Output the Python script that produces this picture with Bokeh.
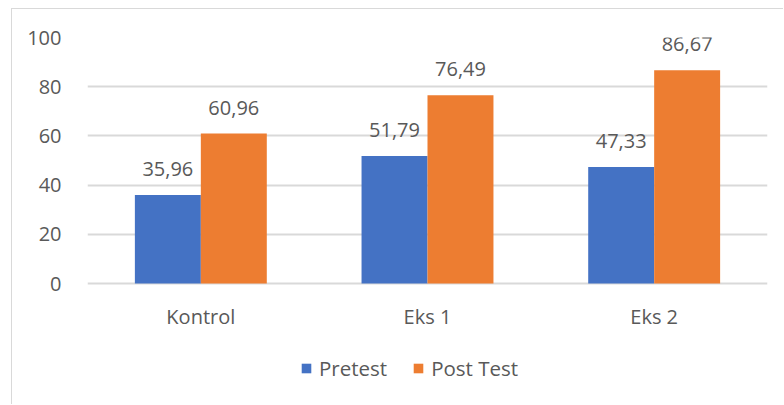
from bokeh.plotting import figure
from bokeh.models import ColumnDataSource, FactorRange, Range1d, LabelSet, Legend, LegendItem, FixedTicker
from bokeh.transform import dodge
from bokeh.core.properties import value
from bokeh.embed import file_html
from bokeh.resources import INLINE

categories = ["Kontrol", "Eks 1", "Eks 2"]
pretest = [35.96, 51.79, 47.33]
posttest = [60.96, 76.49, 86.67]
y_ticks = [0, 20, 40, 60, 80, 100]
series_names = ["Pretest", "Post Test"]

BLUE = "#4472C4"
ORANGE = "#ED7D31"
TXT = "#595959"
GRID = "#d9d9d9"
FONT = "Open Sans"

def fmt(v):
    return f"{v:.2f}".replace(".", ",")

src = ColumnDataSource(dict(
    cat=categories,
    zero=[0] * len(categories),
    pre=pretest,
    post=posttest,
    pre_lbl=[fmt(v) for v in pretest],
    post_lbl=[fmt(v) for v in posttest],
))

W, H = 772, 396
p = figure(
    x_range=FactorRange(*categories, range_padding=0, factor_padding=0),
    y_range=Range1d(-46.34, 100),
    width=W, height=H,
    output_backend="svg", toolbar_location=None,
    min_border_left=75, min_border_right=17, min_border_top=28, min_border_bottom=8,
)
p.styles = {"border-left": "1px solid #d9d9d9", "border-top": "1px solid #d9d9d9",
            "margin-left": "11px", "margin-top": "8px"}
p.outline_line_color = None
p.background_fill_color = "white"

off = 0.1455
bw = 0.291
r1 = p.vbar(x=dodge("cat", -off, range=p.x_range), top="pre", width=bw, source=src,
            fill_color=BLUE, line_color=None)
r2 = p.vbar(x=dodge("cat", off, range=p.x_range), top="post", width=bw, source=src,
            fill_color=ORANGE, line_color=None)

for col, lbl, o in [("pre", "pre_lbl", -off), ("post", "post_lbl", off)]:
    ls = LabelSet(x=dodge("cat", o, range=p.x_range), y=col, text=lbl, source=src,
                  text_align="center", text_baseline="alphabetic", y_offset=19,
                  text_font=value(FONT), text_font_size="20px", text_color=TXT)
    p.add_layout(ls)

# category labels under the baseline
cat_labels = LabelSet(x="cat", y="zero", text="cat", source=src,
                      text_align="center", text_baseline="alphabetic", y_offset=-40,
                      text_font=value(FONT), text_font_size="20px", text_color=TXT)
p.add_layout(cat_labels)

# axes
p.yaxis.ticker = FixedTicker(ticks=y_ticks)
p.yaxis.axis_line_color = None
p.yaxis.major_tick_line_color = None
p.yaxis.minor_tick_line_color = None
p.yaxis.major_label_standoff = 20
p.yaxis.major_label_text_font = FONT
p.yaxis.major_label_text_font_size = "20px"
p.yaxis.major_label_text_color = TXT

p.xaxis.visible = False

p.xgrid.grid_line_color = None
p.ygrid.grid_line_color = GRID
p.ygrid.grid_line_width = 2

legend = Legend(items=[LegendItem(label=series_names[0], renderers=[r1]),
                       LegendItem(label=series_names[1], renderers=[r2])],
                orientation="horizontal", location=(213, 15),
                border_line_color=None, background_fill_alpha=0,
                padding=0, margin=0, spacing=25, label_standoff=7,
                glyph_width=12, glyph_height=12,
                label_text_font=FONT, label_text_font_size="20.5px", label_text_color=TXT)
p.add_layout(legend, "center")

open("out.html", "w").write(file_html(p, INLINE))
